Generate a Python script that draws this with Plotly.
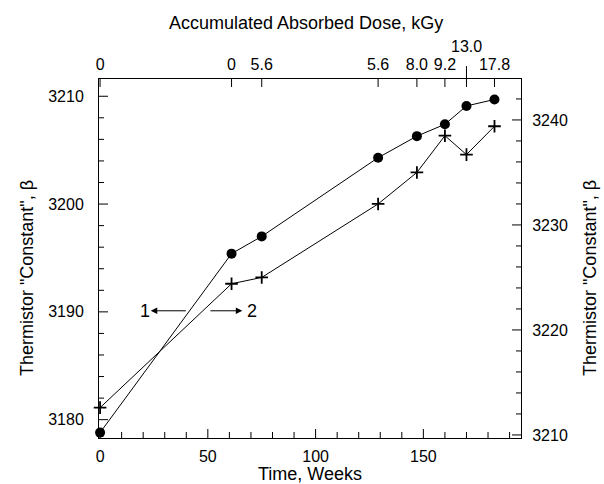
import plotly.graph_objects as go

# ---- data ----
weeks = [0, 61, 75, 129, 147, 160, 170, 183]
beta_1 = [3178.8, 3195.4, 3197.0, 3204.3, 3206.3, 3207.4, 3209.1, 3209.7]   # left axis, dots
beta_2 = [3212.6, 3224.4, 3225.0, 3232.0, 3235.0, 3238.5, 3236.7, 3239.4]   # right axis, crosses
dose_labels = ["0", "0", "5.6", "5.6", "8.0", "9.2", "", "17.8"]
raised_label = "13.0"
raised_index = 6

x_ticks = [0, 50, 100, 150]
left_ticks = [3180, 3190, 3200, 3210]
right_ticks = [3210, 3220, 3230, 3240]
x_minor = [v for v in range(10, 200, 10) if v not in x_ticks]
left_minor = [v for v in range(3180, 3212, 2) if v not in left_ticks]
right_minor = [v for v in range(3210, 3244, 2) if v not in right_ticks]

FONT = "Liberation Sans, Arial, Helvetica, sans-serif"
xr = [-0.5, 195.3]
yr_left = [3178.3, 3211.6]
yr_right = [3209.71, 3243.9]
PLOT_W, PLOT_H = 422, 359

fig = go.Figure()
fig.add_trace(go.Scatter(
    x=weeks, y=beta_1, mode="lines+markers",
    line=dict(color="black", width=1),
    marker=dict(symbol="circle", size=10, color="black"),
    cliponaxis=False, showlegend=False, xaxis="x", yaxis="y"))
fig.add_trace(go.Scatter(
    x=weeks, y=beta_2, mode="lines+markers",
    line=dict(color="black", width=1),
    marker=dict(symbol="cross-thin", size=9, color="black",
                line=dict(color="black", width=1.8)),
    cliponaxis=False, showlegend=False, xaxis="x", yaxis="y2"))
# invisible trace to activate the top (dose) axis
fig.add_trace(go.Scatter(x=weeks[:1], y=beta_1[:1], mode="markers", opacity=0,
                         showlegend=False, hoverinfo="skip", xaxis="x2", yaxis="y"))

tf = dict(family=FONT, size=16, color="black")
line = dict(showline=True, linecolor="black", linewidth=1, showgrid=False, zeroline=False)

fig.update_layout(
    width=604, height=484,
    margin=dict(l=99, r=83, t=79, b=46),
    paper_bgcolor="white", plot_bgcolor="white",
    font=dict(family=FONT, color="black"),
    xaxis=dict(range=xr, tickmode="array", tickvals=x_ticks, ticks="", tickfont=tf,
               ticklabelstandoff=4, **line),
    xaxis2=dict(range=xr, overlaying="x", side="top", anchor="y", tickmode="array",
                tickvals=weeks, ticktext=dose_labels, ticks="", tickfont=tf,
                ticklabelstandoff=2, **line),
    yaxis=dict(range=yr_left, tickmode="array", tickvals=left_ticks, ticks="",
               ticklabelstandoff=11, tickfont=tf, **line),
    yaxis2=dict(range=yr_right, overlaying="y", side="right", anchor="x",
                tickmode="array", tickvals=right_ticks, ticks="",
                ticklabelstandoff=7, tickfont=tf, **line),
)

# inward-pointing tick marks, positioned through the axes' own scales
tl = dict(color="black", width=1)
for v in x_ticks + x_minor:
    ln = 9 if v in x_ticks else 6
    fig.add_shape(type="line", xref="x", yref="paper", x0=v, x1=v,
                  y0=0, y1=ln / PLOT_H, line=tl)
for v in weeks:
    fig.add_shape(type="line", xref="x", yref="paper", x0=v, x1=v,
                  y0=1, y1=1 - 8 / PLOT_H, line=tl)
for v in left_ticks + left_minor:
    ln = 9 if v in left_ticks else 5
    fig.add_shape(type="line", xref="paper", yref="y", x0=0, x1=ln / PLOT_W,
                  y0=v, y1=v, line=tl)
for v in right_ticks + right_minor:
    ln = 9 if v in right_ticks else 5
    fig.add_shape(type="line", xref="paper", yref="y2", x0=1, x1=1 - ln / PLOT_W,
                  y0=v, y1=v, line=tl)

ann_font = dict(family=FONT, size=18, color="black")
c = dict(xanchor="center", yanchor="middle", showarrow=False)
fig.add_annotation(text="Accumulated Absorbed Dose, kGy", xref="paper", yref="paper",
                   x=0.49, y=1.156, font=ann_font, **c)
fig.add_annotation(text="Time, Weeks", xref="paper", yref="paper",
                   x=0.5, y=-0.1, font=ann_font, **c)
fig.add_annotation(text='Thermistor "Constant", β', xref="paper", yref="paper",
                   x=-0.171, y=0.445, textangle=-90, font=ann_font, **c)
fig.add_annotation(text='Thermistor "Constant", β', xref="paper", yref="paper",
                   x=1.163, y=0.445, textangle=-90, font=ann_font, **c)
# raised top label and its long tick
fig.add_annotation(text=raised_label, xref="x", yref="paper", x=weeks[raised_index],
                   y=1.09, font=dict(family=FONT, size=16, color="black"), **c)
fig.add_shape(type="line", xref="x", yref="paper", x0=weeks[raised_index], x1=weeks[raised_index],
              y0=1.0, y1=1.036, line=tl)

# series arrows
arrow_y = 3190.1
fig.add_annotation(x=23.5, y=arrow_y, ax=40.5, ay=arrow_y, xref="x", yref="y",
                   axref="x", ayref="y", text="", showarrow=True, arrowhead=2,
                   arrowsize=1.3, arrowwidth=1, arrowcolor="black")
fig.add_annotation(x=66, y=arrow_y, ax=50.5, ay=arrow_y, xref="x", yref="y",
                   axref="x", ayref="y", text="", showarrow=True, arrowhead=2,
                   arrowsize=1.3, arrowwidth=1, arrowcolor="black")
fig.add_annotation(text="1", x=21, y=arrow_y, xref="x", yref="y", font=ann_font, **c)
fig.add_annotation(text="2", x=70.5, y=arrow_y, xref="x", yref="y", font=ann_font, **c)

fig.write_html("out.html", config={"displayModeBar": False},
               post_script="document.body.style.margin='0';")
